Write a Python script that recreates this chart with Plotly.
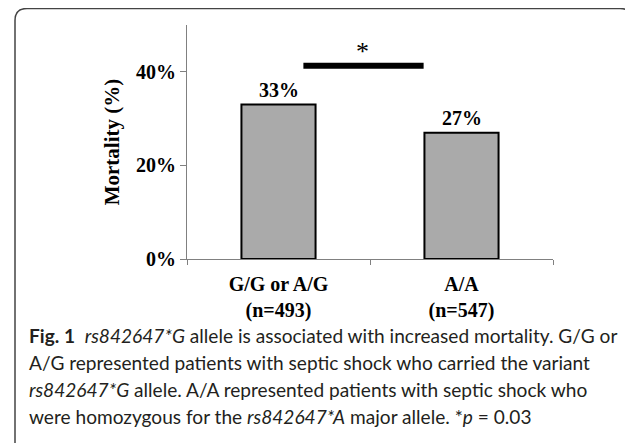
import plotly.graph_objects as go

# ---- data ----
categories = ["G/G or A/G<br>(n=493)", "A/A<br>(n=547)"]
mortality = [33, 27]
bar_labels = ["33%", "27%"]
y_ticks = [0, 20, 40]
y_tick_labels = ["0%", "20%", "40%"]
sig_value = 41.3
caption_lines = [
    "<b>Fig. 1</b>  <i>rs842647*G</i> allele is associated with increased mortality. G/G or",
    "A/G represented patients with septic shock who carried the variant",
    "<i>rs842647*G</i> allele. A/A represented patients with septic shock who",
    "were homozygous for the <i>rs842647*A</i> major allele. *<i>p</i> = 0.03",
]

W, H = 633, 443
OFF = 8  # page body margin offset
def px(x):
    return (x - OFF) / W
def py(y):
    return 1 - (y - OFF) / H

SERIF = "Liberation Serif, Times New Roman, serif"
SANS = "Lato, Open Sans, sans-serif"

fig = go.Figure()
fig.add_trace(go.Bar(
    x=categories, y=mortality,
    marker=dict(color="#aaaaaa", line=dict(color="black", width=2)),
    width=0.405,
))

# value labels above bars
for c, v, t in zip(categories, mortality, bar_labels):
    fig.add_annotation(x=c, y=v, xref="x", yref="y", text="<b>%s</b>" % t,
                       showarrow=False, yanchor="bottom", yshift=2,
                       font=dict(family=SERIF, size=20, color="black"))

# significance bar and asterisk
fig.add_shape(type="line", xref="x", yref="y", x0=0.136, x1=0.793,
              y0=sig_value, y1=sig_value, line=dict(color="black", width=6))
fig.add_annotation(x=0.46, y=sig_value, xref="x", yref="y", text="*",
                   showarrow=False, yanchor="bottom", yshift=-2,
                   font=dict(family=SERIF, size=26, color="black"))

# rounded outer frame
x0, y0, x1, y1, r = 15, 8.5, 632, 452, 12
path = (f"M {px(x0)},{py(y1)} L {px(x0)},{py(y0 + r)} "
        f"Q {px(x0)},{py(y0)} {px(x0 + r)},{py(y0)} "
        f"L {px(x1 - r)},{py(y0)} Q {px(x1)},{py(y0)} {px(x1)},{py(y0 + r)} "
        f"L {px(x1)},{py(y1)}")
fig.add_shape(type="path", xref="paper", yref="paper", path=path,
              line=dict(color="#444444", width=1.5))

# caption
cap_y = [335, 362, 389, 416]
for line, yy in zip(caption_lines, cap_y):
    fig.add_annotation(x=px(27), y=py(yy), xref="paper", yref="paper",
                       text=line, showarrow=False, xanchor="left", yanchor="middle",
                       font=dict(family=SANS, size=19.1, color="#231f20"))

fig.update_layout(
    width=W, height=H,
    template="none",
    margin=dict(l=0, r=0, t=0, b=0, autoexpand=False),
    paper_bgcolor="white", plot_bgcolor="white",
    showlegend=False,
    xaxis=dict(
        domain=[px(187), px(553)],
        showline=True, linecolor="#808080", linewidth=1.2,
        ticks="outside", ticklen=5, tickcolor="#808080", tickson="boundaries",
        tickfont=dict(family=SERIF, size=20, color="black"),
        ticklabelstandoff=7,
        showgrid=False, anchor="y", automargin=False,
    ),
    yaxis=dict(
        domain=[py(259), py(25)],
        range=[0, 50],
        tickvals=y_ticks, ticktext=["<b>%s</b>" % t for t in y_tick_labels],
        showline=True, linecolor="#808080", linewidth=1.2,
        ticks="outside", ticklen=6, tickcolor="#808080",
        tickfont=dict(family=SERIF, size=20, color="black"),
        showgrid=False, zeroline=False, anchor="x", automargin=False,
        title=dict(text="<b>Mortality (%)</b>", font=dict(family=SERIF, size=21, color="black"),
                   standoff=10),
    ),
)
fig.update_xaxes(ticktext=["<b>%s</b>" % c for c in categories], tickvals=categories)

fig.write_html("out.html")
